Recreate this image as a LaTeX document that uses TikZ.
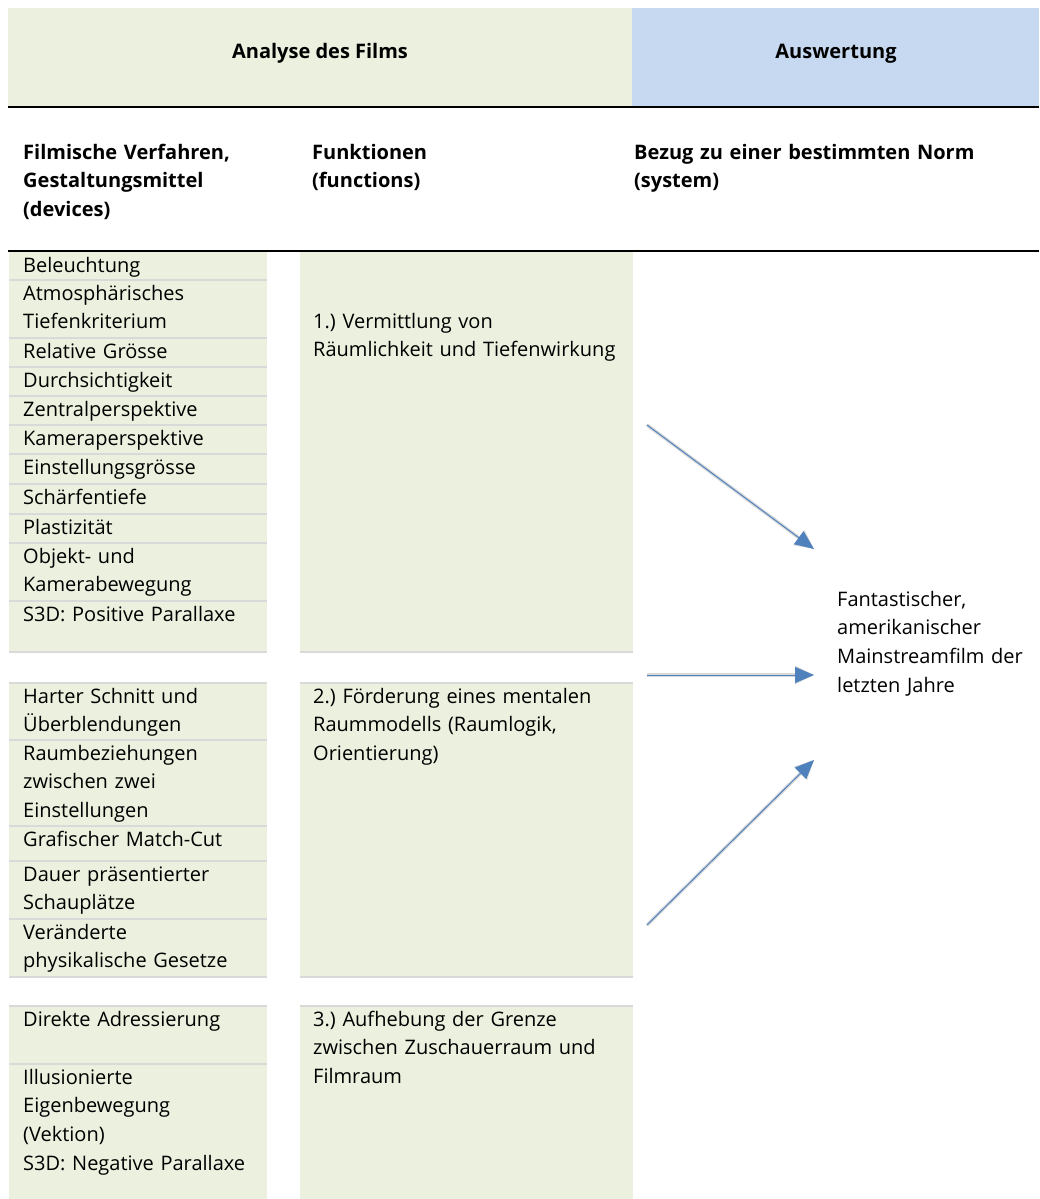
\documentclass[tikz,border=0pt]{standalone}
\usepackage{fontspec}
\setmainfont{Open Sans}
\usetikzlibrary{arrows.meta}

\definecolor{zellgruen}{HTML}{EBF1DE}
\definecolor{kopfblau}{HTML}{C6D9F1}
\definecolor{trenngrau}{HTML}{D9D9D9}
\definecolor{pfeilblau}{HTML}{4F81BD}

\begin{document}
\frenchspacing
\begin{tikzpicture}[x=1pt, y=-1pt,
	txt/.style={anchor=base west, inner sep=0pt, text width=330pt, align=left, font=\fontsize{20}{28.8}\selectfont},
	titel/.style={txt, font=\bfseries\fontsize{20}{28.8}\selectfont},
	trenn/.style={trenngrau, line width=1.5pt},
	pfeil/.style={pfeilblau, line width=1pt, -{Triangle[length=19pt,width=16pt]}},
	schatten/.style={black, opacity=.15, line width=3.5pt, -{Triangle[length=19pt,width=18pt]}, shift={(2,4)}}]
	\useasboundingbox (0,0) rectangle (1039,1199);
	%Spalten
	\def\lx{9}
	\def\rx{267}
	\def\mlx{300}
	\def\mrx{633}
	
	%Kopfzeile
	\fill[zellgruen] (8,8) rectangle (632,107);
	\fill[kopfblau] (632,8) rectangle (1039,107);
	\node[titel, text width=, align=center, anchor=base] (analyse) at (320,59) {Analyse des Films};
	\node[titel, text width=, align=center, anchor=base] (auswertung) at (836,59) {Auswertung};
	\draw[line width=2pt] (8,107) -- (1039,107);
	
	%Spaltentitel
	\node[titel] (verfahren) at (23,159) {Filmische Verfahren,\\Gestaltungsmittel\\(devices)};
	\node[titel] (funktionen) at (312,159) {Funktionen\\(functions)};
	\node[titel, text width=400pt] (system) at (634,159) {Bezug zu einer bestimmten Norm\\(system)};
	
	%Felder
	\fill[zellgruen] (\lx,252) rectangle (\rx,652);
	\fill[zellgruen] (\mlx,252) rectangle (\mrx,652);
	\fill[zellgruen] (\lx,683) rectangle (\rx,977);
	\fill[zellgruen] (\mlx,683) rectangle (\mrx,977);
	\fill[zellgruen] (\lx,1006) rectangle (\rx,1199);
	\fill[zellgruen] (\mlx,1006) rectangle (\mrx,1199);
	\draw[line width=2pt] (8,251) -- (1039,251);
	
	%Trennlinien links
	\draw[trenn] (\lx,280) -- (\rx,280);
	\draw[trenn] (\lx,338) -- (\rx,338);
	\draw[trenn] (\lx,367) -- (\rx,367);
	\draw[trenn] (\lx,396) -- (\rx,396);
	\draw[trenn] (\lx,425) -- (\rx,425);
	\draw[trenn] (\lx,454) -- (\rx,454);
	\draw[trenn] (\lx,484) -- (\rx,484);
	\draw[trenn] (\lx,514) -- (\rx,514);
	\draw[trenn] (\lx,543) -- (\rx,543);
	\draw[trenn] (\lx,601) -- (\rx,601);
	\draw[trenn] (\lx,652) -- (\rx,652);
	\draw[trenn] (\lx,683) -- (\rx,683);
	\draw[trenn] (\lx,740) -- (\rx,740);
	\draw[trenn] (\lx,826) -- (\rx,826);
	\draw[trenn] (\lx,861) -- (\rx,861);
	\draw[trenn] (\lx,919) -- (\rx,919);
	\draw[trenn] (\lx,977) -- (\rx,977);
	\draw[trenn] (\lx,1006) -- (\rx,1006);
	\draw[trenn] (\lx,1064) -- (\rx,1064);
	%Trennlinien Mitte
	\draw[trenn] (\mlx,652) -- (\mrx,652);
	\draw[trenn] (\mlx,683) -- (\mrx,683);
	\draw[trenn] (\mlx,977) -- (\mrx,977);
	\draw[trenn] (\mlx,1006) -- (\mrx,1006);
	
	%Gestaltungsmittel
	\node[txt] (beleuchtung) at (23,272) {Beleuchtung};
	\node[txt] (atmos) at (23,300) {Atmosphärisches\\Tiefenkriterium};
	\node[txt] (groesse) at (23,358) {Relative Grösse};
	\node[txt] (durchsicht) at (23,387) {Durchsichtigkeit};
	\node[txt] (zentral) at (23,416) {Zentralperspektive};
	\node[txt] (kamera) at (23,445) {Kameraperspektive};
	\node[txt] (einstellung) at (23,474) {Einstellungsgrösse};
	\node[txt] (schaerfe) at (23,504) {Schärfentiefe};
	\node[txt] (plastizitaet) at (23,534) {Plastizität};
	\node[txt] (bewegung) at (23,563) {Objekt- und\\Kamerabewegung};
	\node[txt] (positiv) at (23,621) {S3D: Positive Parallaxe};
	
	\node[txt] (schnitt) at (23,703) {Harter Schnitt und\\Überblendungen};
	\node[txt] (raum) at (23,760) {Raumbeziehungen\\zwischen zwei\\Einstellungen};
	\node[txt] (matchcut) at (23,846) {Grafischer Match-Cut};
	\node[txt] (dauer) at (23,881) {Dauer präsentierter\\Schauplätze};
	\node[txt] (gesetze) at (23,939) {Veränderte\\physikalische Gesetze};
	
	\node[txt] (adress) at (23,1026) {Direkte Adressierung};
	\node[txt] (vektion) at (23,1084) {Illusionierte\\Eigenbewegung\\(Vektion)\\S3D: Negative Parallaxe};
	
	%Funktionen
	\node[txt] (fkt1) at (313,328) {1.) Vermittlung von\\Räumlichkeit und Tiefenwirkung};
	\node[txt] (fkt2) at (313,703) {2.) Förderung eines mentalen\\Raummodells (Raumlogik,\\Orientierung)};
	\node[txt] (fkt3) at (313,1026) {3.) Aufhebung der Grenze\\zwischen Zuschauerraum und\\Filmraum};
	
	%Norm
	\node[txt, text width=200pt] (norm) at (837,606) {Fantastischer,\\amerikanischer\\Mainstreamfilm der\\letzten Jahre};
	
	%Pfeile
	\coordinate (p1a) at (647,425);
	\coordinate (p1b) at (814,549);
	\coordinate (p2a) at (647,675);
	\coordinate (p2b) at (814,675);
	\coordinate (p3a) at (647,925);
	\coordinate (p3b) at (814,760);
	\draw[schatten] (p1a) -- (p1b);
	\draw[schatten] (p2a) -- (p2b);
	\draw[schatten] (p3a) -- (p3b);
	\draw[pfeil] (p1a) -- (p1b);
	\draw[pfeil] (p2a) -- (p2b);
	\draw[pfeil] (p3a) -- (p3b);
\end{tikzpicture}
\end{document}
